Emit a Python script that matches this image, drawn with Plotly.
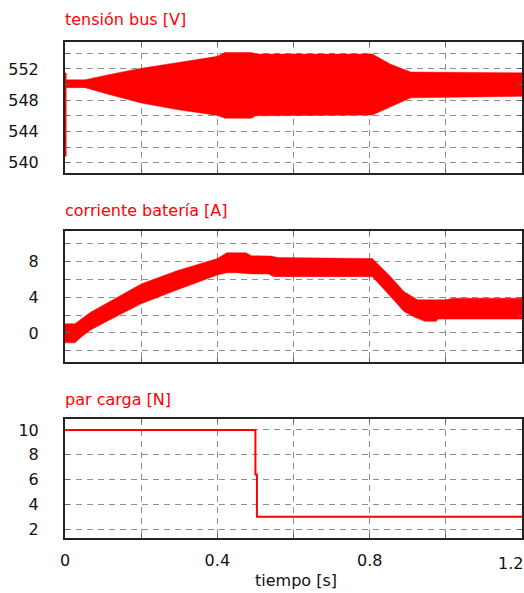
import plotly.graph_objects as go

# --- tensión bus [V]: envelope of the ripple band ---
bus_t_up = [0.0, 0.053, 0.118, 0.2, 0.294, 0.4, 0.42, 0.49, 0.5, 0.807, 0.855, 0.908, 1.2]
bus_v_up = [550.6, 550.6, 551.3, 552.07, 552.8, 553.6, 554.1, 554.1, 553.9, 553.9, 552.6, 551.6, 551.5]
bus_t_lo = [0.0, 0.053, 0.118, 0.2, 0.294, 0.4, 0.42, 0.49, 0.5, 0.807, 0.855, 0.908, 1.2]
bus_v_lo = [549.6, 549.6, 548.7, 547.65, 546.8, 546.06, 545.7, 545.7, 546.0, 546.1, 547.2, 548.3, 548.5]
# start-up transient at t = 0
bus_t_start = [0.002, 0.002]
bus_v_start = [540.8, 551.5]

# --- corriente batería [A]: envelope of the ripple band ---
bat_t_up = [0.0, 0.026, 0.066, 0.118, 0.2, 0.294, 0.4, 0.425, 0.475, 0.49, 0.54, 0.56,
            0.807, 0.855, 0.89, 0.926, 1.0, 1.02, 1.2]
bat_v_up = [1.04, 1.04, 2.29, 3.51, 5.47, 6.94, 8.3, 8.94, 8.94, 8.6, 8.57, 8.4,
            8.3, 6.28, 4.62, 3.7, 3.7, 3.88, 3.88]
bat_t_lo = [0.0, 0.026, 0.04, 0.066, 0.118, 0.2, 0.294, 0.4, 0.425, 0.45, 0.49, 0.535,
            0.548, 0.807, 0.847, 0.89, 0.917, 0.945, 0.975, 0.98, 1.2]
bat_v_lo = [-1.1, -1.1, -0.55, 0.3, 1.48, 3.25, 4.8, 6.46, 6.72, 6.72, 6.58, 6.58,
            6.28, 6.28, 4.43, 2.4, 1.77, 1.3, 1.3, 1.55, 1.55]

# --- par carga [N]: load torque step ---
load_t = [0.0, 0.5, 0.5, 0.504, 0.504, 1.2]
load_v = [10, 10, 6.4, 6.4, 3, 3]

# axis ticks / grid
x_grid = [0, 0.2, 0.4, 0.6, 0.8, 1.0, 1.2]
x_text = ["0", "", "0.4", "", "0.8", "", ""]
bus_grid = [540, 542, 544, 546, 548, 550, 552, 554]
bus_text = ["540", "", "544", "", "548", "", "552", ""]
bat_grid = [-2, 0, 2, 4, 6, 8, 10]
bat_text = ["", "0", "", "4", "", "8", ""]
load_grid = [2, 4, 6, 8, 10]
load_text = ["2", "4", "6", "8", "10"]

titles = ["tensión bus [V]", "corriente batería [A]", "par carga [N]"]
x_label = "tiempo [s]"

RED = "#ff0000"
FONT = "DejaVu Sans"
W, H = 524, 593


def band(t_up, v_up, t_lo, v_lo):
    xs = list(t_up) + list(reversed(t_lo))
    ys = list(v_up) + list(reversed(v_lo))
    return xs, ys


fig = go.Figure()

bx, by = band(bus_t_up, bus_v_up, bus_t_lo, bus_v_lo)
fig.add_trace(go.Scatter(x=bx, y=by, fill="toself", fillcolor=RED, mode="lines",
                         line=dict(color=RED, width=0.5), xaxis="x", yaxis="y",
                         hoverinfo="skip"))
fig.add_trace(go.Scatter(x=bus_t_start, y=bus_v_start, mode="lines",
                         line=dict(color=RED, width=1.5), xaxis="x", yaxis="y"))

cx, cy = band(bat_t_up, bat_v_up, bat_t_lo, bat_v_lo)
fig.add_trace(go.Scatter(x=cx, y=cy, fill="toself", fillcolor=RED, mode="lines",
                         line=dict(color=RED, width=0.5), xaxis="x2", yaxis="y2",
                         hoverinfo="skip"))

fig.add_trace(go.Scatter(x=load_t, y=load_v, mode="lines",
                         line=dict(color=RED, width=2), xaxis="x3", yaxis="y3"))


def px_dom(top, bottom):
    return [(H - bottom) / H, (H - top) / H]


x_dom = [65 / W, 522 / W]
common = dict(showline=True, linecolor="#222222", linewidth=2, mirror="allticks",
              ticks="inside", ticklen=4, tickcolor="#666666", automargin=False,
              showgrid=True, gridcolor="#8e8e8e", gridwidth=1.2, griddash="6px,5px",
              zeroline=False, tickfont=dict(family=FONT, size=16, color="#111111"))

xax = dict(range=[0, 1.2], tickmode="array", tickvals=x_grid, domain=x_dom, **common)

fig.update_layout(
    width=W, height=H, margin=dict(l=0, r=0, t=0, b=0, autoexpand=False),
    paper_bgcolor="white", plot_bgcolor="white", showlegend=False,
    xaxis=dict(anchor="y", ticktext=[""] * len(x_grid), **xax),
    xaxis2=dict(anchor="y2", ticktext=[""] * len(x_grid), **xax),
    xaxis3=dict(anchor="y3", ticktext=x_text, ticklabelstandoff=6, **xax),
    yaxis=dict(anchor="x", domain=px_dom(41.5, 173), range=[538.7, 555.5],
               tickmode="array", tickvals=bus_grid, ticktext=bus_text,
               ticklabelstandoff=21, **common),
    yaxis2=dict(anchor="x2", domain=px_dom(230.7, 361.7), range=[-3.2, 11.4],
                tickmode="array", tickvals=bat_grid, ticktext=bat_text,
                ticklabelstandoff=21, **common),
    yaxis3=dict(anchor="x3", domain=px_dom(419.3, 538.3), range=[1.25, 10.86],
                tickmode="array", tickvals=load_grid, ticktext=load_text,
                ticklabelstandoff=21, **common),
)

# panel titles
for title, yc in zip(titles, [19.5, 210, 400]):
    fig.add_annotation(text=title, xref="paper", yref="paper", x=63 / W, y=(H - yc) / H,
                       xanchor="left", yanchor="middle", showarrow=False,
                       font=dict(family=FONT, size=16, color=RED))

# last x tick label, kept inside the figure edge
fig.add_annotation(text="1.2", xref="x3", yref="paper", x=1.2, y=(H - 563) / H,
                   xanchor="right", yanchor="middle", showarrow=False, xshift=3,
                   font=dict(family=FONT, size=16, color="#111111"))

fig.add_annotation(text=x_label, xref="paper", yref="paper", x=295.8 / W, y=(H - 580) / H,
                   xanchor="center", yanchor="middle", showarrow=False,
                   font=dict(family=FONT, size=16, color="#111111"))

fig.write_html("out.html")
